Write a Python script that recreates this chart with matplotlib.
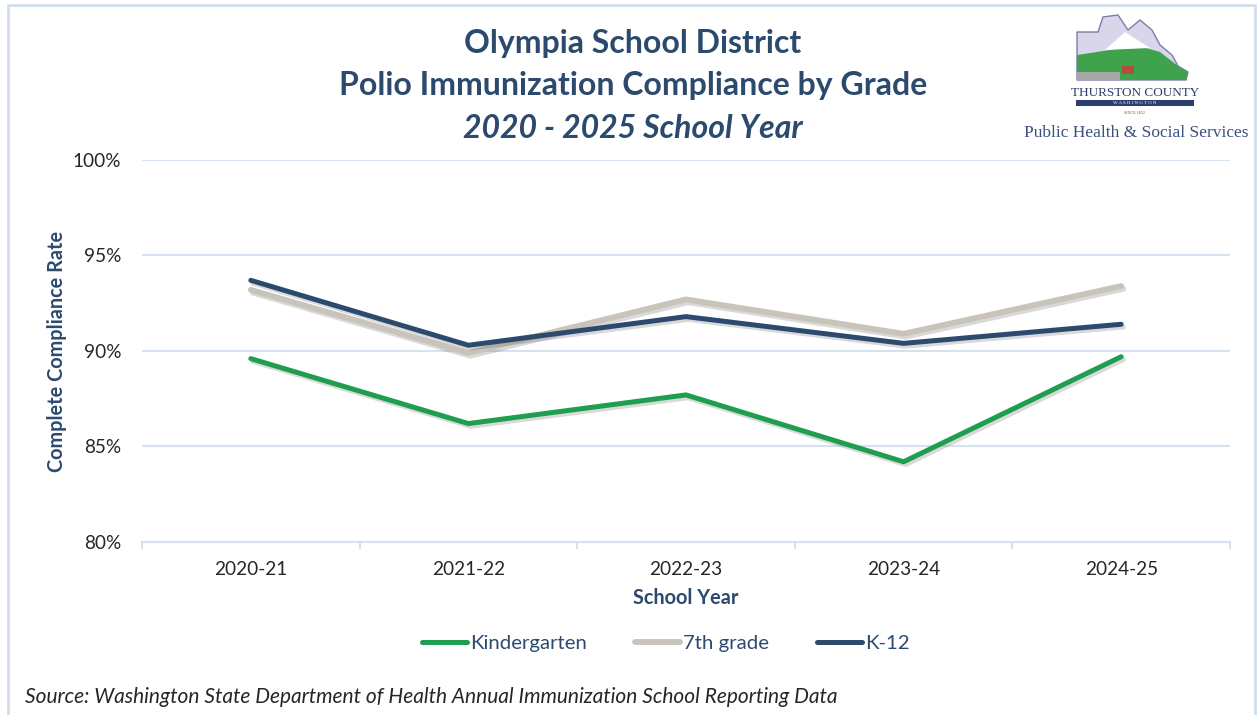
import matplotlib
matplotlib.use('Agg')
import matplotlib.pyplot as plt
import matplotlib.patheffects as pe
from matplotlib.patches import Polygon, Rectangle
from matplotlib.ticker import FuncFormatter, FixedLocator

plt.rcParams['font.family'] = ['Lato', 'DejaVu Sans']

# ── data ──────────────────────────────────────────
years = ['2020-21', '2021-22', '2022-23', '2023-24', '2024-25']
kindergarten = [89.6, 86.2, 87.7, 84.2, 89.7]
grade7 = [93.2, 89.9, 92.7, 90.9, 93.4]
k12 = [93.7, 90.3, 91.8, 90.4, 91.4]
y_ticks = [80, 85, 90, 95, 100]

NAVY = '#2C4A6E'
GREEN = '#1E9E4E'
GRAY = '#C8C4BA'
GRID = '#D6E2F0'

W, H = 1259, 715
fig = plt.figure(figsize=(W / 100, H / 100), dpi=100)
fig.patch.set_facecolor('white')

# overlay in pixel coords for the frame / logo
bg = fig.add_axes([0, 0, 1, 1])
bg.set_xlim(0, W)
bg.set_ylim(H, 0)
bg.axis('off')
bg.plot([8, 8, 1255, 1255], [H, 5, 5, H], color='#D3DEEC', lw=2)

# ── main axes ─────────────────────────────────────
x0, x1, ytop, ybot = 142, 1230, 160, 542
ax = fig.add_axes([x0 / W, 1 - ybot / H, (x1 - x0) / W, (ybot - ytop) / H])
xs = list(range(len(years)))

shadow = [pe.SimpleLineShadow(offset=(1.5, -2), alpha=0.22, shadow_color='#555555'), pe.Normal()]
ax.plot(xs, kindergarten, color=GREEN, lw=3.6, solid_capstyle='round', path_effects=shadow,
        label='Kindergarten', zorder=3)
ax.plot(xs, grade7, color=GRAY, lw=4.2, solid_capstyle='round', path_effects=shadow,
        label='7th grade', zorder=4)
ax.plot(xs, k12, color=NAVY, lw=3.6, solid_capstyle='round', path_effects=shadow,
        label='K-12', zorder=5)

ax.set_xlim(-0.5, len(years) - 0.5)
ax.set_ylim(80, 100)
ax.set_yticks(y_ticks)
ax.yaxis.set_major_formatter(FuncFormatter(lambda v, p: f'{v:.0f}%'))
ax.set_xticks(xs)
ax.set_xticklabels(years)
ax.xaxis.set_minor_locator(FixedLocator([i - 0.5 for i in range(len(years) + 1)]))
ax.tick_params(axis='x', which='major', length=0, pad=14, labelsize=13.7, labelcolor='#262626')
ax.tick_params(axis='x', which='minor', length=5, color=GRID, width=1.5, direction='out')
ax.tick_params(axis='y', length=0, pad=15, labelsize=13.7, labelcolor='#262626')
ax.grid(axis='y', color=GRID, lw=1.5)
ax.set_axisbelow(True)
for s in ['top', 'right', 'left']:
    ax.spines[s].set_visible(False)
ax.spines['bottom'].set_color(GRID)
ax.spines['bottom'].set_linewidth(1.5)

ax.set_xlabel('School Year', fontsize=14.3, fontweight='bold', color=NAVY, labelpad=7)
ax.set_ylabel('Complete Compliance Rate', fontsize=14.3, fontweight='bold', color=NAVY)
ax.yaxis.set_label_coords((67 - x0) / (x1 - x0), 0.5)

leg = fig.legend(loc='center', bbox_to_anchor=(666 / W, 1 - 643 / H), ncol=3, frameon=False,
                 fontsize=14.7, handlelength=2.2, handletextpad=0.15, columnspacing=2.35)
for t in leg.get_texts():
    t.set_color(NAVY)
for h in leg.get_lines():
    h.set_path_effects([])

# ── titles ────────────────────────────────────────
fig.text(633 / W, 1 - 44 / H, 'Olympia School District', ha='center', va='center',
         fontsize=23, fontweight='bold', color=NAVY)
fig.text(633 / W, 1 - 86 / H, 'Polio Immunization Compliance by Grade', ha='center', va='center',
         fontsize=23, fontweight='bold', color=NAVY)
fig.text(633 / W, 1 - 128 / H, '2020 - 2025 School Year', ha='center', va='center',
         fontsize=23, fontweight='bold', style='italic', color=NAVY)

fig.text(25 / W, 1 - 697 / H, 'Source: Washington State Department of Health Annual Immunization School Reporting Data',
         ha='left', va='center', fontsize=15, style='italic', color='#262626')

# ── logo (simplified) ─────────────────────────────
outline = [(1077, 32), (1098, 32), (1103, 17), (1118, 15), (1128, 30), (1140, 20), (1152, 30),
           (1160, 45), (1172, 55), (1178, 66), (1188, 72), (1186, 80), (1077, 80)]
bg.add_patch(Polygon(outline, closed=True, facecolor='#D9D6EC', edgecolor='#7A7FA8', lw=1))
bg.add_patch(Polygon([(1077, 55), (1110, 50), (1135, 45), (1160, 52), (1178, 66), (1188, 72),
                      (1186, 80), (1077, 80)], closed=True, facecolor='#3FA34D', edgecolor='none'))
bg.add_patch(Polygon([(1105, 50), (1125, 32), (1150, 48)], closed=True, facecolor='white',
                     edgecolor='none'))
bg.add_patch(Polygon([(1077, 72), (1120, 72), (1120, 80), (1077, 80)], closed=True,
                     facecolor='#A8A8A8', edgecolor='none'))
bg.add_patch(Rectangle((1122, 66), 12, 8, facecolor='#B0503C', edgecolor='none'))
bg.text(1135, 93, 'THURSTON COUNTY', ha='center', va='center', fontsize=9.5,
        family='Liberation Serif', color='#2C3E6E')
bg.add_patch(Rectangle((1076, 100), 118, 6, facecolor='#2C3E6E', edgecolor='none'))
bg.text(1135, 103, 'W A S H I N G T O N', ha='center', va='center', fontsize=3.5,
        family='Liberation Serif', color='white')
bg.text(1135, 113, 'SINCE 1852', ha='center', va='center', fontsize=3,
        family='Liberation Serif', color='#555555')
bg.text(1136, 133, 'Public Health & Social Services', ha='center', va='center', fontsize=12.5,
        family='Liberation Serif', color='#3A4F80')

fig.savefig('out.png', dpi=100)
